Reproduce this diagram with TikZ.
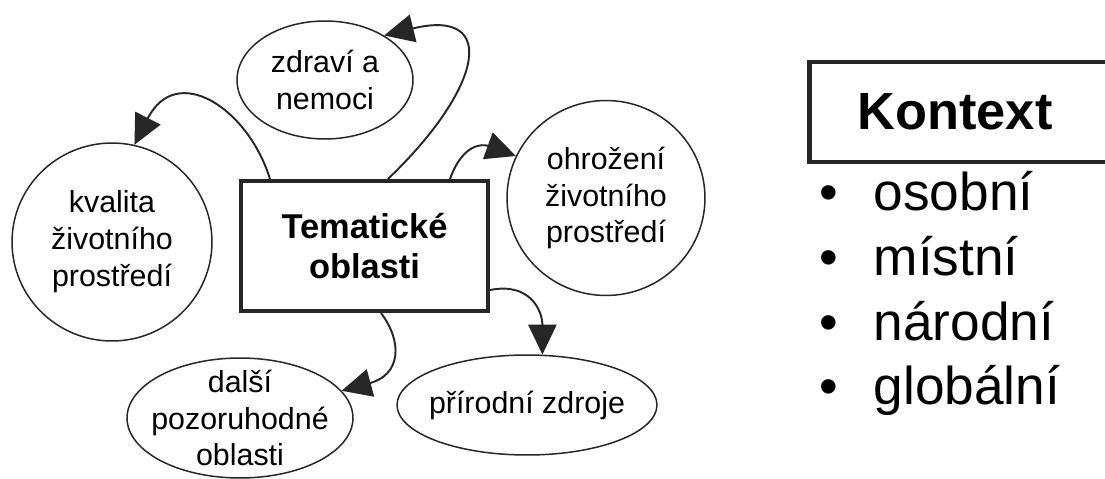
\documentclass[tikz,border=0pt]{standalone}
\usepackage{fontspec}
\setmainfont{Liberation Sans}
\usetikzlibrary{arrows.meta,shapes.geometric}
\definecolor{linie}{HTML}{262626}

\begin{document}
\begin{tikzpicture}[x=0.02cm,y=-0.02cm,->,>={Triangle[length=17pt,width=16pt]},
  line width=1.1pt,
  topic/.style={ellipse,draw=linie,line width=0.85pt,inner sep=-1cm,align=center,font=\fontsize{17.3}{21}\selectfont},
  main box/.style={rectangle,draw=linie,line width=2.3pt,align=center,minimum width=4.94cm,minimum height=2.6cm,font=\bfseries\fontsize{19.6}{22.8}\selectfont},
  kontext box/.style={rectangle,draw=linie,line width=2.8pt,minimum width=6.12cm,minimum height=2cm,font=\bfseries\fontsize{29.8}{34}\selectfont},
  item/.style={anchor=base west,inner sep=0pt,font=\fontsize{30.3}{36}\selectfont}]

  \useasboundingbox (0,0) rectangle (1105,479);

  \node[main box] (tema) at (364.5,246) {Tematické\\oblasti};
  \node[topic,minimum width=3.52cm,minimum height=2.36cm] (zdravi) at (325,80) {zdraví a\\nemoci};
  \node[topic,minimum width=4cm,minimum height=3.96cm] (kvalita) at (112,242) {kvalita\\životního\\prostředí};
  \node[topic,minimum width=3.96cm,minimum height=3.9cm] (ohrozeni) at (606,198) {ohrožení\\životního\\prostředí};
  \node[topic,minimum width=4.52cm,minimum height=2.4cm] (dalsi) at (240,418) {další\\pozoruhodné\\oblasti};
  \node[topic,minimum width=5.2cm,minimum height=2cm] (zdroje) at (527,405) {přírodní zdroje};

  % arrows from the box
  \draw[linie] ([xshift=0.62cm]tema.north west) .. controls +(-22,-71) and +(42,-83) .. (kvalita.77);
  \draw[linie] ([xshift=2.98cm]tema.north west) .. controls +(95,-91) and +(115,-28) .. (zdravi.37);
  \draw[linie] ([xshift=4.22cm]tema.north west) .. controls +(13,-36) and +(-33,-12) .. (ohrozeni.155);
  \draw[linie] ([xshift=2.84cm]tema.south west) .. controls +(22,29) and +(59,-16) .. (dalsi.15);
  \draw[linie] ([yshift=0.46cm]tema.south east) .. controls +(40,-8) and +(0,-44) .. (zdroje.73);

  % context list
  \node[kontext box] (kontext) at (962,112) {Kontext\hspace*{0.28cm}};
  \foreach \wort [count=\i] in {osobní,místní,národní,globální}
    \node[item] (punkt\i) at (819,{211+64.5*(\i-1)}) {\textbullet\hspace{20pt}\wort};
\end{tikzpicture}
\end{document}
